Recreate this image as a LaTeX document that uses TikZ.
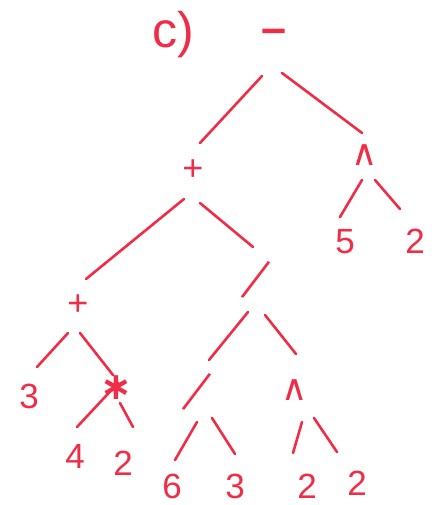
\documentclass[tikz,border=0pt]{standalone}
\usepackage{fontspec}
\setmainfont{Liberation Sans}
\newfontfamily\djv{DejaVu Sans}
\definecolor{ink}{RGB}{240,45,70}
\begin{document}
\begin{tikzpicture}[x=1pt,y=-1pt,
  lbl/.style={text=ink,inner sep=0pt,font=\fontsize{35}{35}\selectfont},
  opr/.style={text=ink,inner sep=0pt,font=\fontsize{36}{36}\selectfont},
  caret/.style={opr,font=\djv\fontsize{36}{36}\selectfont},
  slash/.style={opr,rotate=-28,font=\fontsize{60}{60}\selectfont},
  link/.style={draw=ink,line width=2.6pt,line cap=round}]
\useasboundingbox (0,0) rectangle (438,505);
\node[lbl,font=\fontsize{50}{50}\selectfont] (title) at (173,35) {c)};
\node[opr,font=\bfseries\fontsize{45}{45}\selectfont] (root) at (274,36) {\textendash};
\node[opr] (p1) at (193,170) {+};
\node[caret] (c1) at (365,155) {∧};
\node[lbl] (n5) at (345,242) {5};
\node[lbl] (n2a) at (415,241) {2};
\node[opr] (p2) at (78,305) {+};
\node[slash] (d1) at (256,280) {\scalebox{0.6}[1]{/}};
\node[lbl] (n3a) at (29,396) {3};
\node[opr,font=\djv\bfseries\fontsize{38}{38}\selectfont] (s) at (116,388) {∗};
\node[lbl] (n4) at (75,456) {4};
\node[lbl] (n2b) at (123,463) {2};
\node[slash] (d2) at (197,392) {\scalebox{0.6}[1]{/}};
\node[caret] (c2) at (295,390) {∧};
\node[lbl] (n6) at (172,486) {6};
\node[lbl] (n3b) at (235,486) {3};
\node[lbl] (n2c) at (307,486) {2};
\node[lbl] (n2d) at (357,483) {2};
\draw[link] ([shift={(-12,40)}]root.center) -- ([shift={(7,-27)}]p1.center);
\draw[link] ([shift={(8,37)}]root.center) -- ([shift={(-3,-22)}]c1.center);
\draw[link] ([shift={(-3,25)}]c1.center) -- ([shift={(-5,-25)}]n5.center);
\draw[link] ([shift={(10,25)}]c1.center) -- ([shift={(-15,-32)}]n2a.center);
\draw[link] ([shift={(-9,29)}]p1.center) -- ([shift={(8,-26)}]p2.center);
\draw[link] ([shift={(7,33)}]p1.center) -- ([shift={(-3,-33)}]d1.center);
\draw[link] ([shift={(-10,28)}]p2.center) -- ([shift={(8,-29)}]n3a.center);
\draw[link] ([shift={(2,28)}]p2.center) -- ([shift={(-3,-13)}]s.center);
\draw[link] ([shift={(2,-5)}]s.center) -- ([shift={(2,-29)}]n4.center);
\draw[link] ([shift={(4,15)}]s.center) -- ([shift={(10,-36)}]n2b.center);
\draw[link] ([shift={(-8,32)}]d1.center) -- ([shift={(12,-32)}]d2.center);
\draw[link] ([shift={(9,35)}]d1.center) -- ([shift={(1,-36)}]c2.center);
\draw[link] ([shift={(0,30)}]d2.center) -- ([shift={(3,-26)}]n6.center);
\draw[link] ([shift={(15,26)}]d2.center) -- ([shift={(0,-32)}]n3b.center);
\draw[link] ([shift={(7,32)}]c2.center) -- ([shift={(-14,-33)}]n2c.center);
\draw[link] ([shift={(19,28)}]c2.center) -- ([shift={(-20,-31)}]n2d.center);
\end{tikzpicture}
\end{document}
